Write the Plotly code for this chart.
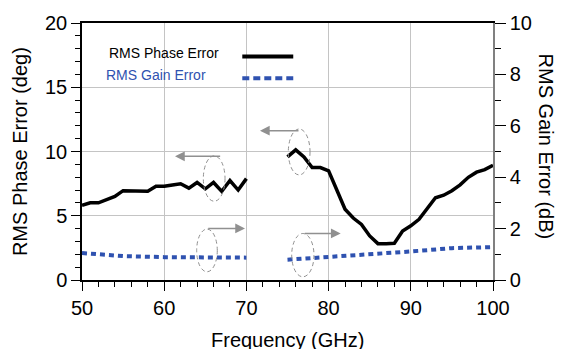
import plotly.graph_objects as go

# ---- data ----
phase_left_freq = [50, 51, 52, 53, 54, 55, 56, 57, 58, 59, 60, 61, 62, 63, 64, 65, 66, 67, 68, 69, 70]
phase_left = [5.81, 6.01, 6.01, 6.25, 6.5, 6.95, 6.95, 6.95, 6.9, 7.29, 7.29, 7.4, 7.49, 7.15,
              7.59, 7.1, 7.59, 6.9, 7.74, 7.0, 7.89]
phase_right_freq = list(range(75, 101))
phase_right = [9.58, 10.13, 9.58, 8.75, 8.75, 8.49, 7.0, 5.51, 4.82, 4.32, 3.43, 2.83, 2.83, 2.86,
               3.82, 4.22, 4.72, 5.51, 6.4, 6.6, 6.95, 7.4, 7.99, 8.39, 8.59, 8.93]
gain_left_freq = [50, 55, 60, 65, 70]
gain_left = [1.05, 0.93, 0.89, 0.88, 0.87]
gain_right_freq = [75, 80, 85, 90, 95, 100]
gain_right = [0.79, 0.89, 1.0, 1.11, 1.24, 1.28]

x_ticks = [50, 60, 70, 80, 90, 100]
y_ticks = [0, 5, 10, 15, 20]
y2_ticks = [0, 2, 4, 6, 8, 10]

BLUE = "#2f52b0"
FONT = "Liberation Sans, Arial, sans-serif"

fig = go.Figure()
fig.add_trace(go.Scatter(x=phase_left_freq, y=phase_left, mode="lines",
                         line=dict(color="black", width=3.5), showlegend=False))
fig.add_trace(go.Scatter(x=phase_right_freq, y=phase_right, mode="lines",
                         line=dict(color="black", width=3.5), showlegend=False))
fig.add_trace(go.Scatter(x=gain_left_freq, y=gain_left, mode="lines", yaxis="y2",
                         line=dict(color=BLUE, width=4, dash="5px,4px"), showlegend=False))
fig.add_trace(go.Scatter(x=gain_right_freq, y=gain_right, mode="lines", yaxis="y2",
                         line=dict(color=BLUE, width=4, dash="5px,4px"), showlegend=False))

# legend (text left, sample right)
shapes = [
    dict(type="line", xref="x", yref="y", x0=69.5, x1=75.7, y0=17.39, y1=17.39,
         line=dict(color="black", width=4)),
    dict(type="line", xref="x", yref="y", x0=69.5, x1=75.7, y0=15.71, y1=15.71,
         line=dict(color=BLUE, width=4, dash="7px,4px")),
]
# dashed ellipses
ell = [(64.76, 67.40, 6.13, 9.66), (63.95, 66.46, 0.64, 3.96),
       (75.10, 77.74, 8.18, 11.75), (75.51, 78.22, 0.25, 3.62)]
for x0, x1, y0, y1 in ell:
    shapes.append(dict(type="circle", xref="x", yref="y", x0=x0, x1=x1, y0=y0, y1=y1,
                       line=dict(color="#909090", width=1, dash="4px,3px")))

annotations = [
    dict(x=53.0, y=17.7, xref="x", yref="y", text="RMS Phase Error", showarrow=False,
         xanchor="left", font=dict(family=FONT, size=14, color="black")),
    dict(x=52.7, y=15.94, xref="x", yref="y", text="RMS Gain Error", showarrow=False,
         xanchor="left", font=dict(family=FONT, size=14, color=BLUE)),
    dict(x=-0.1835, y=0.5, xref="paper", yref="paper", text="RMS Phase Error (deg)",
         textangle=-90, showarrow=False, font=dict(family=FONT, size=20, color="black")),
    dict(x=1.16, y=0.52, xref="paper", yref="paper", text="RMS Gain Error (dB)",
         textangle=90, showarrow=False, font=dict(family=FONT, size=20, color="black")),
    dict(x=0.5, y=-0.232, xref="paper", yref="paper", text="Frequency (GHz)",
         showarrow=False, yanchor="middle", font=dict(family=FONT, size=20, color="black")),
]
# arrows: (tail x, head x, y)
arrows = [(66.99, 61.31, 9.63), (65.17, 69.83, 4.01), (76.52, 71.65, 11.62), (76.92, 81.47, 3.62)]
for tx, hx, yy in arrows:
    annotations.append(dict(x=hx, y=yy, ax=tx, ay=yy, xref="x", yref="y", axref="x", ayref="y",
                            text="", showarrow=True, arrowhead=2, arrowsize=1.3, arrowwidth=1.5,
                            arrowcolor="#909090"))

fig.update_layout(
    width=564, height=349,
    margin=dict(l=82, r=71, t=19, b=69),
    paper_bgcolor="white", plot_bgcolor="white",
    font=dict(family=FONT, size=20, color="black"),
    shapes=shapes, annotations=annotations,
    xaxis=dict(range=[50, 100], tickvals=x_ticks, showgrid=True, gridcolor="#c4c4c4", gridwidth=1,
               showline=True, linecolor="black", linewidth=1.5, mirror=True,
               ticks="outside", ticklen=9, tickcolor="black",
               minor=dict(dtick=2, ticks="outside", ticklen=5, tickcolor="black", showgrid=False),
               zeroline=False, tickfont=dict(size=20)),
    yaxis=dict(range=[0, 20], tickvals=y_ticks, showgrid=True, gridcolor="#c4c4c4", gridwidth=1,
               showline=True, linecolor="black", linewidth=1.5,
               ticks="outside", ticklen=9, tickcolor="black",
               minor=dict(dtick=1, ticks="outside", ticklen=5, tickcolor="black", showgrid=False),
               zeroline=False, tickfont=dict(size=20)),
    yaxis2=dict(range=[0, 10], tickvals=y2_ticks, overlaying="y", side="right", showgrid=False,
                showline=True, linecolor="#808080", linewidth=1.5,
                ticks="outside", ticklen=11, tickcolor="black",
                minor=dict(dtick=1, ticks="outside", ticklen=6, tickcolor="black", showgrid=False),
                zeroline=False, tickfont=dict(size=20)),
)

fig.write_html("out.html")
